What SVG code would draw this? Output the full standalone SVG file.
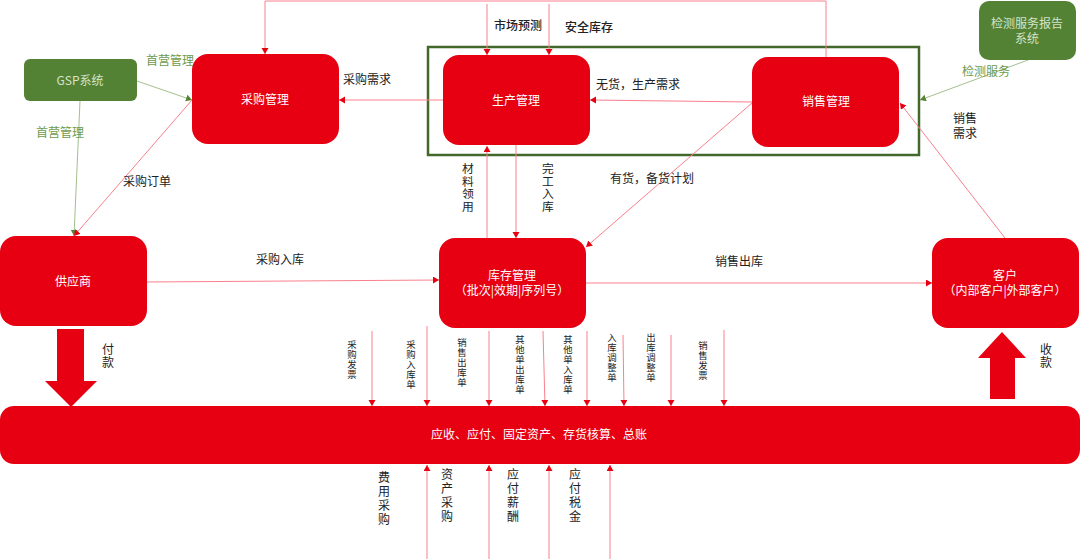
<svg xmlns="http://www.w3.org/2000/svg" width="1080" height="560" viewBox="0 0 1080 560">
<style>
text{font-family:"Noto Sans CJK SC","Liberation Sans",sans-serif;font-size:12px;fill:#222;text-anchor:middle;dominant-baseline:central}
.r{fill:#e60012}
.g{fill:#548235}
.w{fill:#fff}
.gw{fill:#d5e3c8}
.lg{fill:#6f9a4c}
.b{font-weight:500}
text.vt{writing-mode:vertical-rl;text-orientation:upright;text-anchor:start;dominant-baseline:auto}
text.v{font-size:9.4px;letter-spacing:.6px}
text.n{font-size:11.8px;letter-spacing:.7px}
text.p{letter-spacing:1px}
text.s{letter-spacing:2px}
.l{fill:none;stroke:#f9808c;stroke-width:1}
.lg2{fill:none;stroke:#a5bf8e;stroke-width:1}
</style>
<defs>
<marker id="ar" markerUnits="userSpaceOnUse" markerWidth="8" markerHeight="8" refX="6" refY="3.5" orient="auto"><path d="M0 0L6 3.5L0 7z" fill="#e60012"/></marker>
<marker id="ag" markerUnits="userSpaceOnUse" markerWidth="8" markerHeight="8" refX="6" refY="3.5" orient="auto"><path d="M0 0L6 3.5L0 7z" fill="#548235"/></marker>
</defs>
<g id="frame"><rect x="428" y="47" width="491" height="108" fill="none" stroke="#43682b" stroke-width="2.5"/></g>
<g id="connectors">
<path class="l" marker-end="url(#ar)" d="M826 57V1H265V54"/>
<path class="l" marker-end="url(#ar)" d="M487 4V55"/>
<path class="l" marker-end="url(#ar)" d="M549 4V55"/>
<path class="l" marker-end="url(#ar)" d="M443 100H339"/>
<path class="l" marker-end="url(#ar)" d="M752 102L590 100"/>
<path class="l" marker-end="url(#ar)" d="M752 103L586 247"/>
<path class="l" marker-end="url(#ar)" d="M487 238V146"/>
<path class="l" marker-end="url(#ar)" d="M516 145V238"/>
<path class="lg2" marker-end="url(#ag)" d="M137 81L192 100"/>
<path class="lg2" marker-end="url(#ag)" d="M80 101L74 236"/>
<path class="l" marker-end="url(#ar)" d="M192 100L74 236"/>
<path class="l" marker-end="url(#ar)" d="M147 282L439 280"/>
<path class="l" marker-end="url(#ar)" d="M586 283H932"/>
<path class="l" marker-end="url(#ar)" d="M1005 238L900 103"/>
<path class="lg2" marker-end="url(#ag)" d="M1028 60L920 100"/>
<path class="l" marker-end="url(#ar)" d="M372 331V406"/>
<path class="l" marker-end="url(#ar)" d="M427 326V406"/>
<path class="l" marker-end="url(#ar)" d="M489 331V406"/>
<path class="l" marker-end="url(#ar)" d="M543 331L545 406"/>
<path class="l" marker-end="url(#ar)" d="M587 331V406"/>
<path class="l" marker-end="url(#ar)" d="M623 335L624 406"/>
<path class="l" marker-end="url(#ar)" d="M671 335V406"/>
<path class="l" marker-end="url(#ar)" d="M724 330V406"/>
<path class="l" marker-end="url(#ar)" d="M427 559V465"/>
<path class="l" marker-end="url(#ar)" d="M489 559V465"/>
<path class="l" marker-end="url(#ar)" d="M549 559V465"/>
<path class="l" marker-end="url(#ar)" d="M610 559V465"/>
<path class="r" d="M57 329H84V381H97L71 407L45 381H57z"/>
<path class="r" d="M990 399H1015V358H1026L1002 332L978 358H990z"/>
</g>
<g id="gsp"><rect class="g" x="24" y="59" width="113" height="42" rx="6"/><text class="gw" x="80" y="79">GSP系统</text></g>
<g id="purchase"><rect class="r" x="192" y="54" width="147" height="90" rx="16"/><text class="w" x="265" y="98">采购管理</text></g>
<g id="production"><rect class="r" x="443" y="55" width="147" height="90" rx="16"/><text class="w" x="516" y="99">生产管理</text></g>
<g id="sales"><rect class="r" x="752" y="57" width="147" height="90" rx="16"/><text class="w" x="826" y="100">销售管理</text></g>
<g id="inspection"><rect class="g" x="979" y="1" width="97" height="59" rx="10"/><text class="gw" x="1027" y="22">检测服务报告</text><text class="gw" x="1027" y="37">系统</text></g>
<g id="supplier"><rect class="r" x="0" y="236" width="147" height="90" rx="16"/><text class="w" x="73" y="280">供应商</text></g>
<g id="inventory"><rect class="r" x="439" y="238" width="147" height="90" rx="16"/><text class="w" x="512" y="274">库存管理</text><text class="w" x="512" y="289">（批次|效期|序列号）</text></g>
<g id="customer"><rect class="r" x="932" y="238" width="147" height="90" rx="16"/><text class="w" x="1005" y="274">客户</text><text class="w" x="1005" y="289">（内部客户|外部客户）</text></g>
<g id="finance"><rect class="r" x="0" y="406" width="1080" height="58" rx="14"/><text class="w" x="539" y="433">应收、应付、固定资产、存货核算、总账</text></g>
<g id="labels">
<text class="lg" x="170" y="59">首营管理</text>
<text class="lg" x="60" y="131">首营管理</text>
<text class="lg" x="986" y="70">检测服务</text>
<text x="367" y="78">采购需求</text>
<text x="147" y="180">采购订单</text>
<text class="b" x="518" y="24">市场预测</text>
<text class="b" x="589" y="26">安全库存</text>
<text x="638" y="83">无货，生产需求</text>
<text x="652" y="177">有货，备货计划</text>
<text x="965" y="117">销售</text><text x="965" y="132">需求</text>
<text x="280" y="258">采购入库</text>
<text x="739" y="260">销售出库</text>
<text class="vt n" x="468" y="163">材料领用</text>
<text class="vt n" x="548" y="163">完工入库</text>
<text class="vt p" x="108" y="343">付款</text>
<text class="vt p" x="1046" y="343">收款</text>
<text class="vt v" x="352" y="340">采购发票</text>
<text class="vt v" x="411" y="340">采购入库单</text>
<text class="vt v" x="462" y="338">销售出库单</text>
<text class="vt v" x="520" y="335">其他单出库单</text>
<text class="vt v" x="568" y="335">其他单入库单</text>
<text class="vt v" x="612" y="333">入库调整单</text>
<text class="vt v" x="651" y="333">出库调整单</text>
<text class="vt v" x="703" y="341">销售发票</text>
<text class="vt s" x="384" y="471">费用采购</text>
<text class="vt s" x="447" y="468">资产采购</text>
<text class="vt s" x="513" y="468">应付薪酬</text>
<text class="vt s" x="575" y="468">应付税金</text>
</g>
</svg>
